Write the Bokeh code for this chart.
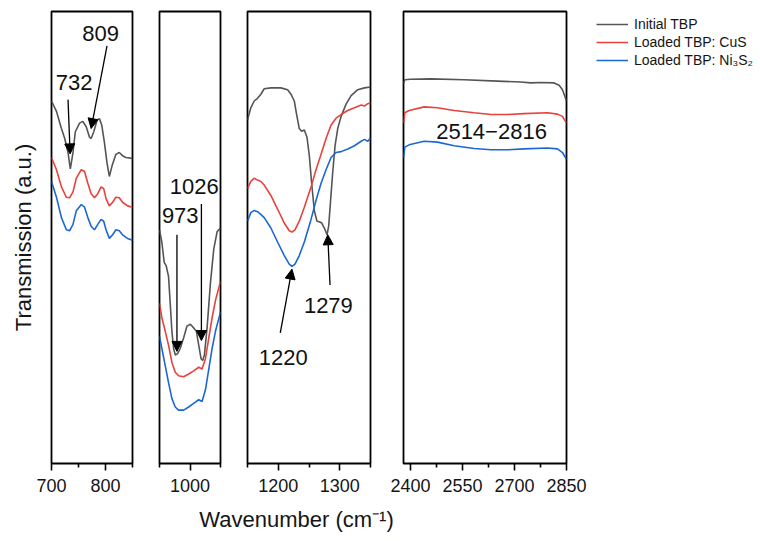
from bokeh.plotting import figure
from bokeh.layouts import row, column
from bokeh.models import (Range1d, FixedTicker, Arrow, NormalHead, Legend,
                          LegendItem, Label, ColumnDataSource)
from bokeh.core.properties import value
from bokeh.embed import file_html
from bokeh.resources import INLINE

FONT = "Liberation Sans"
GRAY = "#555555"
RED = "#e8423c"
BLUE = "#1b67d4"
COLORS = [GRAY, RED, BLUE]

series_names = ["Initial TBP", "Loaded TBP: CuS", "Loaded TBP: Ni\u2083S\u2082"]

# ---- panel 1: 700-850 cm-1 ----
p1_gray_x = [700, 709.2, 718.4, 724.5, 730.6, 734.9, 739.8, 744.1, 752.0, 758.1, 764.3, 770.4, 773.4,
             778.3, 784.5, 788.7, 793.0, 797.9, 802.8, 807.1, 812.0, 819.3, 825.5, 831.6, 837.7, 850]
p1_gray_y = [80.2, 77.9, 74.1, 71.9, 68.8, 65.2, 68.8, 73.4, 75.3, 75.7, 74.5, 72.2, 71.9,
             73.4, 76.0, 76.3, 74.9, 71.1, 66.5, 63.5, 65.8, 68.4, 68.8, 68.1, 67.7, 67.5]
p1_x = [700, 709.2, 718.4, 727.5, 733.7, 739.8, 745.9, 755.1, 761.2, 767.3, 773.4, 779.6,
        785.7, 791.8, 796.7, 801.0, 807.1, 813.2, 819.3, 825.5, 831.6, 840.8, 850]
p1_red_y = [67.7, 65.0, 61.2, 58.9, 58.8, 60.1, 63.1, 65.0, 64.6, 62.0, 59.7, 58.8,
            59.7, 61.2, 60.8, 58.6, 57.0, 57.8, 58.9, 58.8, 57.8, 57.0, 56.7]
p1_blue_y = [62.4, 58.9, 54.4, 51.7, 51.5, 52.9, 55.9, 57.3, 56.7, 54.4, 52.5, 51.7,
             52.9, 54.0, 53.6, 51.7, 49.8, 50.6, 51.7, 51.5, 50.6, 49.8, 49.4]

# ---- panel 2: 950-1050 cm-1 ----
p2_gray_x = [950, 953.8, 957.7, 961.0, 964.8, 967.6, 970.3, 973.1, 975.8, 979.7, 984.1, 989.6, 995.1,
             1000.6, 1006.0, 1010.4, 1014.3, 1018.1, 1020.9, 1023.6, 1028.0, 1033.5, 1039.0, 1044.5, 1050]
p2_gray_y = [51.7, 49.0, 44.5, 43.7, 41.4, 35.4, 29.3, 25.5, 24.0, 24.3, 25.5, 27.8, 30.4,
             30.8, 30.0, 29.3, 26.2, 23.2, 22.8, 24.0, 30.0, 39.9, 47.5, 51.3, 52.1]
p2_x = [950, 953.8, 959.3, 964.8, 970.3, 975.8, 981.3, 989.6, 997.8, 1006.0, 1014.3, 1019.8,
        1025.3, 1030.8, 1036.3, 1041.8, 1050]
p2_red_y = [35.4, 32.3, 29.3, 26.2, 22.4, 20.2, 19.4, 19.2, 19.8, 20.5, 21.3, 20.9,
            23.2, 27.8, 32.3, 36.1, 40.3]
p2_blue_y = [28.1, 25.5, 21.7, 17.9, 14.4, 12.5, 11.8, 11.8, 12.5, 13.3, 14.1, 13.7,
             16.3, 20.9, 25.5, 29.3, 33.5]

# ---- panel 3: 1150-1350 cm-1 ----
p3_gray_x = [1150, 1155.4, 1160.9, 1166.3, 1171.7, 1177.2, 1188.0, 1204.3, 1215.2, 1220.7, 1226.1,
             1229.9, 1234.2, 1238.0, 1242.4, 1246.7, 1250.5, 1254.3, 1258.7, 1263.0, 1266.8, 1270.7,
             1275.0, 1279.3, 1282.0, 1285.0, 1288.6, 1292.4, 1296.7, 1302.2, 1310.3, 1318.5, 1329.3,
             1340.2, 1350]
p3_gray_y = [76.0, 78.7, 80.2, 80.8, 81.7, 82.9, 83.1, 83.1, 82.7, 81.7, 80.2,
             77.2, 74.1, 73.5, 73.8, 72.2, 68.1, 62.0, 55.9, 53.6, 53.5, 53.2,
             52.1, 50.6, 52.5, 58.0, 64.5, 70.3, 74.1, 76.8, 79.5, 81.4, 82.7,
             83.1, 83.3]
p3_x = [1150, 1155.4, 1160.9, 1166.3, 1171.7, 1177.2, 1188.0, 1198.9, 1209.8, 1217.9, 1222.3,
        1227.2, 1234.2, 1242.4, 1253.3, 1261.4, 1269.6, 1277.7, 1285.9, 1294.0, 1302.2, 1313.0,
        1323.9, 1334.8, 1340.2, 1345.7, 1350]
p3_red_y = [60.8, 62.4, 63.1, 62.7, 62.4, 61.6, 59.3, 56.3, 53.2, 51.5, 51.2,
            51.7, 53.6, 56.7, 61.2, 65.0, 68.4, 71.9, 74.9, 76.4, 77.2, 78.1,
            78.7, 79.3, 79.1, 79.6, 79.8]
p3_blue_y = [53.6, 55.5, 56.0, 55.7, 55.1, 54.4, 52.1, 49.0, 46.0, 44.1, 43.6,
             44.1, 46.0, 49.0, 54.0, 58.2, 62.0, 65.0, 67.7, 68.8, 69.0, 69.6,
             70.3, 71.3, 71.7, 71.3, 72.0]

# ---- panel 4: 2380-2850 cm-1 ----
p4_gray_x = [2380, 2383.8, 2401.1, 2458.8, 2554.9, 2651.0, 2718.3, 2747.1, 2775.9, 2814.4,
             2828.8, 2838.4, 2850]
p4_gray_y = [84.0, 84.9, 85.0, 85.1, 84.9, 84.6, 84.4, 84.2, 84.3, 84.2, 83.7, 82.7, 80.2]
p4_x = [2380, 2383.8, 2396.3, 2439.6, 2478.0, 2526.1, 2583.7, 2631.8, 2679.8, 2727.9,
        2795.2, 2824.0, 2838.4, 2850]
p4_red_y = [75.3, 77.6, 78.1, 78.9, 78.7, 78.1, 77.6, 77.2, 77.2, 77.4, 77.6, 77.3, 76.8, 75.3]
p4_blue_y = [67.7, 70.0, 70.5, 71.3, 71.1, 70.3, 69.7, 69.4, 69.4, 69.6, 69.8, 69.6, 68.8, 67.3]

# ---- peak annotations: label text/position and arrow tail -> head ----
p1_labels = ["732", "809"]
p1_label_x = [742, 791]
p1_label_y = [84.3, 95.2]
p1_arrow = dict(x0=[730.6, 802.8], y0=[80.5, 92.4], x1=[734.5, 773.4], y1=[68.5, 74.1])

p2_labels = ["973", "1026"]
p2_label_x = [984, 1007]
p2_label_y = [54.8, 61.2]
p2_arrow = dict(x0=[978.6, 1018.7], y0=[50.6, 57.4], x1=[978.6, 1018.7], y1=[24.8, 27.2])

p3_labels = ["1220", "1279"]
p3_label_x = [1208, 1281.5]
p3_label_y = [23.4, 35.0]
p3_arrow = dict(x0=[1203.3, 1284.2], y0=[28.9, 39.5], x1=[1222.3, 1280.5], y1=[43.0, 50.6])

p4_labels = ["2514\u22122816"]
p4_label_x = [2633.8]
p4_label_y = [73.5]

# ---- axis ticks per panel ----
p1_ticks, p1_minor = [700, 800], [750, 850]
p2_ticks, p2_minor = [1000], [950, 1050]
p3_ticks, p3_minor = [1200, 1300], [1150, 1250, 1350]
p4_ticks, p4_minor = [2400, 2550, 2700, 2850], [2475, 2625, 2775]

HEIGHT = 501
TOP, BOTTOM = 11, 38


def panel(width, left, right, xr, ticks, minor, with_yaxis=False):
    p = figure(width=width, height=HEIGHT, x_range=Range1d(*xr), y_range=Range1d(0, 100),
               min_border_left=left, min_border_right=right, min_border_top=TOP,
               min_border_bottom=BOTTOM, toolbar_location=None, output_backend="svg",
               y_axis_location="left" if with_yaxis else None)
    p.grid.visible = False
    p.outline_line_color = "black"
    p.outline_line_width = 1.8
    p.background_fill_color = "white"
    p.border_fill_color = "white"
    ax = p.xaxis[0]
    ax.ticker = FixedTicker(ticks=ticks, minor_ticks=minor)
    ax.axis_line_color = None
    ax.major_tick_line_color = "black"
    ax.major_tick_line_width = 1.6
    ax.major_tick_in = 0
    ax.major_tick_out = 7
    ax.minor_tick_line_color = "black"
    ax.minor_tick_line_width = 1.6
    ax.minor_tick_in = 0
    ax.minor_tick_out = 4
    ax.major_label_text_font = FONT
    ax.major_label_text_font_size = "18px"
    ax.major_label_text_color = "#151515"
    ax.major_label_standoff = 8
    if with_yaxis:
        ya = p.yaxis[0]
        ya.ticker = FixedTicker(ticks=[])
        ya.axis_line_color = None
        ya.major_tick_out = 0
        ya.minor_tick_out = 0
        ya.major_tick_in = 0
        ya.minor_tick_in = 0
        ya.major_label_standoff = 0
        ya.axis_label = "Transmission (a.u.)"
        ya.axis_label_text_font = FONT
        ya.axis_label_text_font_size = "22px"
        ya.axis_label_text_font_style = "normal"
        ya.axis_label_text_color = "#151515"
        ya.axis_label_standoff = 16
    return p


def curves(p, gx, gy, x, ry, by):
    g = p.line(gx, gy, line_color=GRAY, line_width=1.6)
    r = p.line(x, ry, line_color=RED, line_width=1.6)
    b = p.line(x, by, line_color=BLUE, line_width=1.6)
    return g, r, b


def annotate(p, labels, lx, ly, arrows=None):
    src = ColumnDataSource(dict(x=lx, y=ly, t=labels))
    p.text(x="x", y="y", text="t", source=src, text_font=value(FONT), text_font_size="22px",
           text_align="center", text_baseline="middle", text_color="#111111")
    if arrows:
        p.add_layout(Arrow(end=NormalHead(size=10, fill_color="black", line_color="black"),
                           x_start="x0", y_start="y0", x_end="x1", y_end="y1",
                           source=ColumnDataSource(arrows), line_color="black", line_width=1.3))


f1 = panel(145, 51, 13, (700, 850), p1_ticks, p1_minor, with_yaxis=True)
curves(f1, p1_gray_x, p1_gray_y, p1_x, p1_red_y, p1_blue_y)
annotate(f1, p1_labels, p1_label_x, p1_label_y, p1_arrow)

f2 = panel(88, 14, 13, (950, 1050), p2_ticks, p2_minor)
curves(f2, p2_gray_x, p2_gray_y, p2_x, p2_red_y, p2_blue_y)
annotate(f2, p2_labels, p2_label_x, p2_label_y, p2_arrow)

f3 = panel(153, 14, 16, (1150, 1350), p3_ticks, p3_minor)
curves(f3, p3_gray_x, p3_gray_y, p3_x, p3_red_y, p3_blue_y)
annotate(f3, p3_labels, p3_label_x, p3_label_y, p3_arrow)

f4 = panel(205, 17, 25, (2380, 2850), p4_ticks, p4_minor)
curves(f4, p4_gray_x, p4_gray_y, p4_x, p4_red_y, p4_blue_y)
annotate(f4, p4_labels, p4_label_x, p4_label_y)

# legend column to the right of the panels; its key lines reuse the
# 2380-2850 series, which fall outside this column's own (unit) ranges
key = figure(width=169, height=HEIGHT, x_range=Range1d(0, 1), y_range=Range1d(0, 1),
             min_border=0, x_axis_location=None, y_axis_location=None,
             toolbar_location=None, output_backend="svg")
key.grid.visible = False
key.outline_line_color = None
key_renderers = curves(key, p4_gray_x, p4_gray_y, p4_x, p4_red_y, p4_blue_y)
legend = Legend(items=[LegendItem(label=n, renderers=[r]) for n, r in zip(series_names, key_renderers)],
                location="top_left", orientation="vertical",
                label_text_font=FONT, label_text_font_size="14px", label_text_color="#151515",
                glyph_width=32, glyph_height=14, label_height=14, label_standoff=6,
                spacing=2, padding=2, margin=5,
                border_line_color=None, background_fill_alpha=0)
key.add_layout(legend)

# strip beneath the panels carrying the shared x-axis title
strip = figure(width=760, height=40, x_range=Range1d(0, 760), y_range=Range1d(0, 40),
               min_border=0, x_axis_location=None, y_axis_location=None,
               toolbar_location=None, output_backend="svg")
strip.grid.visible = False
strip.outline_line_color = None
strip.add_layout(Label(x=296, y=22, text="Wavenumber (cm\u207b\u00b9)", text_font=FONT,
                       text_font_size="22px", text_align="center", text_baseline="middle",
                       text_color="#151515"))

layout = column(row(f1, f2, f3, f4, key), strip)

open("out.html", "w").write(file_html(layout, INLINE))
